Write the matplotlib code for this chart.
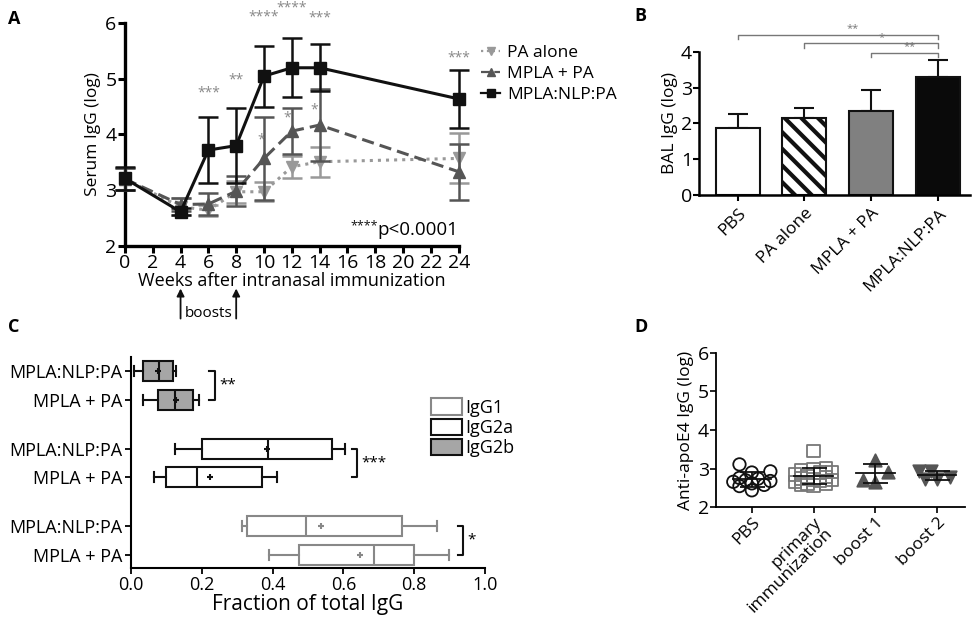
import matplotlib
matplotlib.use("Agg")
import matplotlib.pyplot as plt
from matplotlib.patches import Patch
from matplotlib.lines import Line2D

plt.rcParams["font.family"] = ["Open Sans", "DejaVu Sans"]
plt.rcParams["hatch.linewidth"] = 3.0

# ---- panel A: serum IgG over time
weeks = [0, 4, 6, 8, 10, 12, 14, 24]
nlp_mean = [3.21, 2.61, 3.72, 3.80, 5.05, 5.20, 5.20, 4.64]
nlp_err = [0.20, 0.06, 0.60, 0.67, 0.55, 0.53, 0.42, 0.52]
mpla_mean = [3.20, 2.74, 2.75, 2.98, 3.57, 4.06, 4.17, 3.33]
mpla_err = [0.20, 0.12, 0.20, 0.27, 0.75, 0.41, 0.65, 0.50]
pa_mean = [3.20, 2.70, 2.64, 2.97, 2.97, 3.42, 3.51, 3.57]
pa_err = [0.20, 0.15, 0.10, 0.20, 0.17, 0.20, 0.27, 0.45]

star_weeks = [6, 8, 10, 12, 14, 24, 9.8, 11.7, 13.6]
star_height = [4.74, 4.98, 6.12, 6.27, 6.09, 5.37, 3.90, 4.29, 4.44]
star_text = ["***", "**", "****", "****", "***", "***", "*", "*", "*"]
boost_weeks = [4, 8]

# ---- panel B: BAL IgG
bal_groups = ["PBS", "PA alone", "MPLA + PA", "MPLA:NLP:PA"]
bal_mean = [1.88, 2.14, 2.35, 3.30]
bal_err = [0.37, 0.30, 0.58, 0.47]
bal_pairs = [(0, 3, "**", 4.48), (1, 3, "*", 4.23), (2, 3, "**", 3.97)]

# ---- panel C: isotype fractions (top to bottom)
iso_labels = ["MPLA:NLP:PA", "MPLA + PA"] * 3
iso_kind = ["IgG2b", "IgG2b", "IgG2a", "IgG2a", "IgG1", "IgG1"]
iso_whislo = [0.009, 0.035, 0.124, 0.065, 0.313, 0.391]
iso_q1 = [0.035, 0.075, 0.202, 0.099, 0.327, 0.476]
iso_med = [0.080, 0.124, 0.388, 0.187, 0.494, 0.687]
iso_q3 = [0.120, 0.176, 0.567, 0.369, 0.765, 0.800]
iso_whishi = [0.126, 0.192, 0.605, 0.413, 0.865, 0.899]
iso_mean = [0.077, 0.126, 0.383, 0.223, 0.536, 0.647]
iso_sig = [("**", 0.237), ("***", 0.639), ("*", 0.939)]

# ---- panel D: anti-apoE4 IgG
apoe_groups = ["PBS", "primary\nimmunization", "boost 1", "boost 2"]
apoe_pbs = [2.90, 2.93, 3.11, 2.74, 2.68, 2.62, 2.55, 2.44, 2.58, 2.76, 2.66, 2.70]
apoe_primary = [3.45, 3.00, 2.98, 2.95, 2.92, 2.90, 2.85, 2.80, 2.78, 2.75,
                2.72, 2.70, 2.68, 2.65, 2.62, 2.60, 2.58, 2.56]
apoe_boost1 = [3.22, 2.92, 2.66, 2.70]
apoe_boost2 = [2.95, 2.93, 2.78, 2.72, 2.74]

black = "#111111"
dark = "#555555"
light = "#999999"
star_grey = "#888888"

fig = plt.figure(figsize=(9.76, 6.26), dpi=100)

# ================= A
ax = fig.add_axes([0.128, 0.6075, 0.342, 0.3553])
series = [
    (pa_mean, pa_err, light, ":", "v", "PA alone"),
    (mpla_mean, mpla_err, dark, (0, (4, 2)), "^", "MPLA + PA"),
    (nlp_mean, nlp_err, black, "-", "s", "MPLA:NLP:PA"),
]
handles = []
for z, (m, e, c, ls, mk, lab) in enumerate(series):
    eb = ax.errorbar(weeks, m, yerr=e, color=c, ls=ls, lw=2.2, marker=mk, ms=9,
                     capsize=7, elinewidth=1.8, capthick=1.8, clip_on=False,
                     zorder=3 + z)
    for art in eb.lines[1] + eb.lines[2]:
        art.set_clip_on(False)
    handles.append(Line2D([], [], color=c, ls=ls, lw=1.6, marker=mk, ms=6, label=lab))
for w, h, t in zip(star_weeks, star_height, star_text):
    ax.text(w, h, t, ha="center", va="center", fontsize=10, color=star_grey)
ptxt = ax.text(24, 2.28, "p<0.0001", ha="right", va="center", fontsize=13.5)
ax.annotate("****", xy=(0, 0.72), xycoords=ptxt, ha="right", va="center",
            fontsize=9, color=black)
ax.set_xlim(0, 24)
ax.set_ylim(2, 6)
ax.set_xticks(range(0, 25, 2))
ax.set_yticks(range(2, 7))
ax.tick_params(labelsize=14, width=2.2, length=5, pad=1)
for s in ["top", "right"]:
    ax.spines[s].set_visible(False)
for s in ["left", "bottom"]:
    ax.spines[s].set_linewidth(2.4)
ax.set_ylabel("Serum IgG (log)", fontsize=12.5, labelpad=3)
ax.set_xlabel("Weeks after intranasal immunization", fontsize=13, labelpad=0)
for w in boost_weeks:
    ax.annotate("", xy=(w, -0.18), xytext=(w, -0.34), xycoords=("data", "axes fraction"),
                arrowprops=dict(arrowstyle="-|>", color=black, lw=1.3, mutation_scale=11),
                annotation_clip=False)
ax.text(sum(boost_weeks) / 2, -0.305, "boosts", ha="center", va="center", fontsize=11,
        transform=ax.get_xaxis_transform())
fig.legend(handles=handles, loc="upper left", bbox_to_anchor=(0.486, 0.94),
           frameon=False, fontsize=12.5, handlelength=1.1, handletextpad=0.4,
           labelspacing=0.3, borderaxespad=0)
fig.text(0.008, 0.97, "A", fontsize=13, fontweight="bold", va="center")

# ================= B
ax = fig.add_axes([0.716, 0.6885, 0.278, 0.2289])
fills = ["white", "white", "#808080", "#0a0a0a"]
hatches = ["", "\\\\", "", ""]
xb = range(len(bal_groups))
bars = ax.bar(xb, bal_mean, width=0.66, color=fills, edgecolor=black, lw=1.5, zorder=2)
for b, h in zip(bars, hatches):
    b.set_hatch(h)
ax.errorbar(xb, bal_mean, yerr=[[0] * 4, bal_err], fmt="none", ecolor=black,
            elinewidth=1.5, capsize=7, capthick=1.5, zorder=1)
for i, j, t, h in bal_pairs:
    ax.plot([i, i, j, j], [h - 0.12, h, h, h - 0.12], color="#777777", lw=1,
            clip_on=False)
    ax.text((i + j) / 2 + 0.5 * (j - i) * 0.15, h + 0.02, t, ha="center", va="bottom",
            fontsize=8, color="#777777")
ax.set_xlim(-0.58, 3.48)
ax.set_ylim(0, 4)
ax.set_yticks(range(0, 5))
ax.set_xticks(list(xb))
ax.set_xticklabels(bal_groups, rotation=45, ha="right", rotation_mode="anchor", fontsize=12.5)
ax.tick_params(axis="y", labelsize=14, width=1.5, length=4, pad=1)
ax.tick_params(axis="x", width=1.5, length=4)
for s in ["top", "right"]:
    ax.spines[s].set_visible(False)
for s in ["left", "bottom"]:
    ax.spines[s].set_linewidth(1.8)
ax.set_ylabel("BAL IgG (log)", fontsize=12.5, labelpad=2)
fig.text(0.650, 0.975, "B", fontsize=13, fontweight="bold", va="center")

# ================= C
ax = fig.add_axes([0.1342, 0.0931, 0.3627, 0.337])
rows = [0, 1, 2.7, 3.7, 5.4, 6.4]
edge = {"IgG1": "#888888", "IgG2a": black, "IgG2b": black}
face = {"IgG1": "white", "IgG2a": "white", "IgG2b": "#a6a6a6"}
for k in range(len(rows)):
    st = dict(med=iso_med[k], q1=iso_q1[k], q3=iso_q3[k], whislo=iso_whislo[k],
              whishi=iso_whishi[k], mean=iso_mean[k], fliers=[])
    c = edge[iso_kind[k]]
    ax.bxp([st], positions=[rows[k]], vert=False, widths=0.7, patch_artist=True,
           showmeans=True, showcaps=True, manage_ticks=False,
           boxprops=dict(facecolor=face[iso_kind[k]], edgecolor=c, lw=1.5),
           medianprops=dict(color=c, lw=1.5),
           whiskerprops=dict(color=c, lw=1.5),
           capprops=dict(color=c, lw=1.5),
           meanprops=dict(marker="+", markeredgecolor=c, markersize=5, mew=1.5))
for p, (t, xr) in enumerate(iso_sig):
    top, bot = rows[2 * p], rows[2 * p + 1]
    ax.plot([xr - 0.016, xr, xr, xr - 0.016], [top, top, bot, bot], color=black, lw=1.5)
    ax.text(xr + 0.012, (top + bot) / 2, t, ha="left", va="center", fontsize=11)
ax.set_ylim(6.85, -0.5)
ax.set_xlim(0, 1.0)
ax.set_yticks(rows)
ax.set_yticklabels(iso_labels)
ax.set_xticks([0, 0.2, 0.4, 0.6, 0.8, 1.0])
ax.set_xticklabels(["0.0", "0.2", "0.4", "0.6", "0.8", "1.0"])
ax.tick_params(labelsize=13, width=1.3, length=4, pad=2)
for s in ["top", "right"]:
    ax.spines[s].set_visible(False)
for s in ["left", "bottom"]:
    ax.spines[s].set_linewidth(1.5)
ax.set_xlabel("Fraction of total IgG", fontsize=15, labelpad=0)
leg_handles = [Patch(facecolor=face[k], edgecolor=edge[k], lw=1.5, label=k)
               for k in ["IgG1", "IgG2a", "IgG2b"]]
fig.legend(handles=leg_handles, loc="upper left", bbox_to_anchor=(0.434, 0.375),
           frameon=False, fontsize=13, handlelength=1.7, handleheight=1.0,
           handletextpad=0.2, labelspacing=0.1, borderaxespad=0)
fig.text(0.008, 0.478, "C", fontsize=13, fontweight="bold", va="center")

# ================= D
ax = fig.add_axes([0.7336, 0.1896, 0.2551, 0.247])
groups = [apoe_pbs, apoe_primary, apoe_boost1, apoe_boost2]
marks = [("o", "none", black), ("s", "none", "#777777"), ("^", dark, dark), ("v", dark, dark)]
xscale, yscale, diam = 61.7, 38.7, 12.0
cands = [0.0, -0.1, 0.1, -0.2, 0.2, -0.3, 0.3]


def swarm(vals):
    # simple beeswarm: nearest free slot, else the least crowded one
    placed = []
    offs = [0.0] * len(vals)
    for i in sorted(range(len(vals)), key=lambda i: vals[i]):
        best, best_d = 0.0, -1.0
        for c in cands:
            d = min([(((c - o) * xscale) ** 2 + ((vals[i] - v) * yscale) ** 2) ** 0.5
                     for o, v in placed] or [99.0])
            if d >= diam:
                best = c
                break
            if d > best_d:
                best, best_d = c, d
        placed.append((best, vals[i]))
        offs[i] = best
    return offs


for g, (vals, (mk, fc, ec)) in enumerate(zip(groups, marks)):
    offs = swarm(vals)
    ax.scatter([g + o for o in offs], vals, marker=mk, s=80, facecolors=fc,
               edgecolors=ec, linewidths=1.3, zorder=3, clip_on=False)
    mean = sum(vals) / len(vals)
    sd = (sum((v - mean) ** 2 for v in vals) / (len(vals) - 1)) ** 0.5
    ax.plot([g - 0.31, g + 0.31], [mean, mean], color=black, lw=1.3, zorder=4)
    ax.errorbar([g], [mean], yerr=[sd], fmt="none", ecolor=black, elinewidth=1.3,
                capsize=9, capthick=1.3, zorder=4)
ax.set_xlim(-0.58, 3.45)
ax.set_ylim(2, 6)
ax.set_yticks(range(2, 7))
ax.set_xticks(range(4))
ax.set_xticklabels(apoe_groups, rotation=45, ha="right", rotation_mode="anchor",
                   linespacing=0.95)
ax.tick_params(labelsize=14, width=1.2, length=4, pad=1)
ax.tick_params(axis="x", labelsize=12.5)
for s in ["top", "right"]:
    ax.spines[s].set_visible(False)
for s in ["left", "bottom"]:
    ax.spines[s].set_linewidth(1.3)
ax.set_ylabel("Anti-apoE4 IgG (log)", fontsize=12.5, labelpad=3)
fig.text(0.650, 0.478, "D", fontsize=13, fontweight="bold", va="center")

fig.savefig("out.png", dpi=100)
